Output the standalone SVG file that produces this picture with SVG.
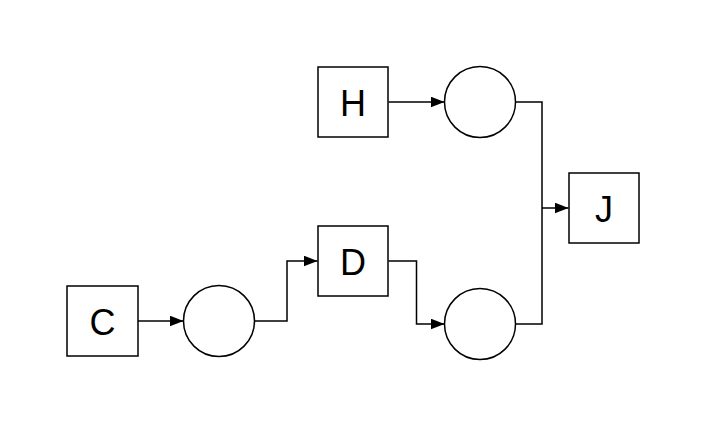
<svg xmlns="http://www.w3.org/2000/svg" width="706" height="423" viewBox="0 0 706 423">
<style>
.box{fill:#fff;stroke:#000;stroke-width:1.5}
.circ{fill:#fff;stroke:#000;stroke-width:1.5}
.lbl{font-family:"Liberation Sans",Arial,sans-serif;font-size:36px;fill:#000;text-anchor:middle;dominant-baseline:central}
.edge{fill:none;stroke:#000;stroke-width:1.5}
</style>
<defs>
<marker id="arr" viewBox="0 0 14 11" refX="14" refY="5.5" markerWidth="14" markerHeight="11" markerUnits="userSpaceOnUse" orient="auto">
<path d="M0,0 L14,5.5 L0,11 Z" fill="#000"/>
</marker>
</defs>
<rect width="706" height="423" fill="#fff"/>
<g id="connectors">
<path class="edge" d="M138,321 L183.5,321" marker-end="url(#arr)"/>
<path class="edge" d="M254.5,321 L287,321 L287,261 L317.5,261" marker-end="url(#arr)"/>
<path class="edge" d="M388.5,261 L416.5,261 L416.5,324 L444.5,324" marker-end="url(#arr)"/>
<path class="edge" d="M388.5,102 L444.5,102" marker-end="url(#arr)"/>
<path class="edge" d="M515.5,102 L542,102 L542,324 L515.5,324"/>
<path class="edge" d="M542,208 L568.5,208" marker-end="url(#arr)"/>
</g>
<g id="C"><rect class="box" x="67" y="286" width="71" height="70"/><text class="lbl" x="102.5" y="322">C</text></g>
<g id="n1"><circle class="circ" cx="219" cy="321" r="35.5"/></g>
<g id="D"><rect class="box" x="318" y="226" width="70" height="70"/><text class="lbl" x="353" y="262">D</text></g>
<g id="H"><rect class="box" x="318" y="67" width="70" height="70"/><text class="lbl" x="353" y="103">H</text></g>
<g id="n2"><circle class="circ" cx="480" cy="102" r="35.5"/></g>
<g id="n3"><circle class="circ" cx="480" cy="324" r="35.5"/></g>
<g id="J"><rect class="box" x="569" y="173" width="70" height="70"/><text class="lbl" x="604" y="209">J</text></g>
</svg>
